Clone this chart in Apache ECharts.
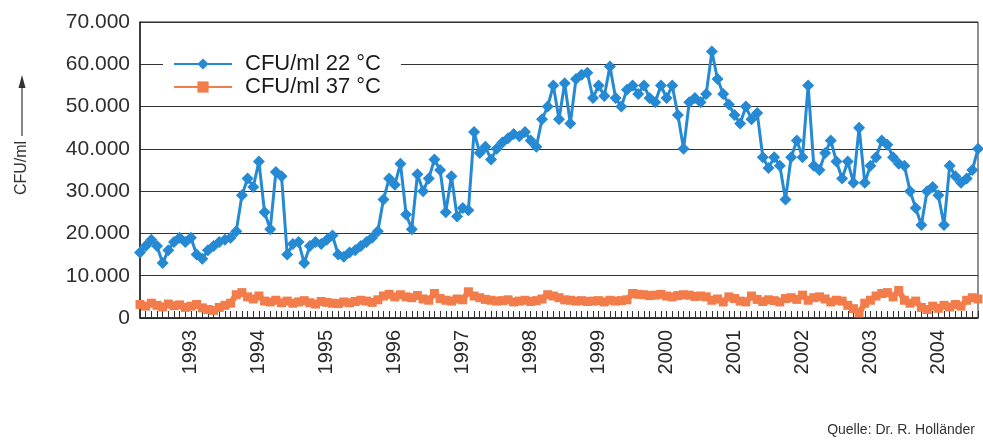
<!DOCTYPE html>
<html>
<head>
<meta charset="utf-8">
<script src="https://cdn.jsdelivr.net/npm/echarts@6/dist/echarts.min.js"></script>
<style>
  html, body { margin: 0; padding: 0; background: #fff; }
  #chart { width: 983px; height: 442px; }
</style>
</head>
<body>
<div id="chart"></div>
<script>
// Monatswerte April 1992 bis August 2004
const startYear = 1992;
const startMonth = 4;
const yearLabels = ["1993", "1994", "1995", "1996", "1997", "1998", "1999", "2000", "2001", "2002", "2003", "2004"];

// CFU/ml 22 °C
const cfu22 = [
  15500, 17000, 18500, 17000, 13000, 16000, 18000, 19000, 18000, 19000,
  15000, 14000, 16000, 17000, 18000, 18500, 19000, 20500, 29000, 33000,
  31000, 37000, 25000, 21000, 34500, 33500, 15000, 17500, 18000, 13000,
  17000, 18000, 17500, 18500, 19500, 15000, 14500, 15500, 16000, 17000,
  18000, 19000, 20500, 28000, 33000, 31500, 36500, 24500, 21000, 34000,
  30000, 33000, 37500, 35000, 25000, 33500, 24000, 26000, 25500, 44000,
  39000, 40500, 37500, 40000, 41500, 42500, 43500, 43000, 44000, 42000,
  40500, 47000, 50000, 55000, 47000, 55500, 46000, 56500, 57500, 58000,
  52000, 55000, 52500, 59500, 52000, 50000, 54000, 55000, 53000, 55000,
  52000, 51000, 55000, 52000, 55000, 48000, 40000, 51000, 52000, 51000,
  53000, 63000, 56500, 53000, 50500, 48000, 46000, 50000, 47000, 48500,
  38000, 35500, 38000, 36000, 28000, 38000, 42000, 38000, 55000, 36000,
  35000, 39000, 42000, 37000, 33000, 37000, 32000, 45000, 32000, 36000,
  38000, 42000, 41000, 38000, 36500, 36000, 30000, 26000, 22000, 30000,
  31000, 29000, 22000, 36000, 33500, 32000, 33000, 35000, 40000
];

// CFU/ml 37 °C
const cfu37 = [
  3200, 2800, 3500, 3000, 2600, 3300, 2900, 3100, 2500, 2800,
  3200, 2400, 2000, 1800, 2500, 3000, 3500, 5500, 6000, 5000,
  4500, 5200, 4000, 3800, 4200, 3600, 4000, 3500, 3800, 4100,
  3600, 3300, 3900, 3700, 3500, 3400, 3800, 3600, 3900, 4200,
  4000, 3700, 4300, 5200, 5600, 5000, 5500, 5000, 4800, 5300,
  4500, 4200, 5800, 4600, 4200, 4000, 4500, 4300, 6200, 5200,
  4800, 4400, 4200, 4000, 4100, 4300, 3800, 4000, 4200, 3900,
  4100, 4500, 5500, 5200, 4800, 4300, 4200, 4000, 4100, 3900,
  4000, 4100, 3800, 4200, 4000, 4100, 4300, 5800, 5600, 5500,
  5300, 5400, 5600, 5200, 5000, 5300, 5500, 5400, 5100, 5200,
  5000, 4200, 4500, 3800, 5000, 4600, 4000, 3800, 5200, 4400,
  3900, 4300, 4100, 3800, 4600, 4800, 4400, 5400, 4200, 4800,
  5000, 4500, 3800, 4200, 4000, 3000, 2200, 1200, 3500, 4200,
  5200, 5800, 6000, 5000, 6500, 4200, 3500, 4000, 2500, 2000,
  2800, 2300, 3000, 2600, 3200, 2800, 4200, 4800, 4500
];

// Kategorien: Jahr-Monat
const months = [];
for (let i = 0; i < cfu22.length; i++) {
  const m = startMonth - 1 + i;
  const y = startYear + Math.floor(m / 12);
  const mm = (m % 12) + 1;
  months.push(y + "-" + (mm < 10 ? "0" + mm : mm));
}

const chart = echarts.init(document.getElementById("chart"));

const fmtNum = v => v === 0 ? "0" : String(v).replace(/\B(?=(\d{3})+(?!\d))/g, ".");
const font = "Liberation Sans, Arial, sans-serif";

chart.setOption({
  animation: false,
  textStyle: { fontFamily: font },
  grid: {
    left: 140, right: 5, top: 22, bottom: 124,
    show: true, borderColor: "#222", borderWidth: 1
  },
  legend: {
    orient: "vertical",
    left: 163, top: 50,
    padding: [3, 20, 3, 10],
    itemWidth: 58, itemHeight: 14, itemGap: 1,
    backgroundColor: "#fff",
    textStyle: { fontSize: 22, lineHeight: 22, color: "#1a1a1a", padding: [0, 0, 0, 8] },
    data: ["CFU/ml 22 °C", "CFU/ml 37 °C"]
  },
  xAxis: {
    type: "category",
    data: months,
    boundaryGap: false,
    axisLine: { lineStyle: { color: "#222", width: 1.5 } },
    axisTick: { inside: true, length: 7, interval: 0, lineStyle: { color: "#333" } },
    axisLabel: {
      rotate: 90,
      margin: 12,
      fontSize: 20,
      color: "#2a2a2a",
      interval: (idx, val) => val.endsWith("-01") && yearLabels.includes(val.slice(0, 4)),
      formatter: val => val.slice(0, 4)
    },
    splitLine: { show: false }
  },
  yAxis: {
    type: "value",
    min: 0, max: 70000, interval: 10000,
    axisLine: { show: true, lineStyle: { color: "#222", width: 1.5 } },
    axisTick: { show: false },
    axisLabel: { fontSize: 21, color: "#2e2e2e", margin: 10, formatter: fmtNum },
    splitLine: { lineStyle: { color: "#333", width: 1 } }
  },
  series: [
    {
      name: "CFU/ml 22 °C",
      type: "line",
      data: cfu22,
      showSymbol: true,
      showAllSymbol: true,
      symbol: "diamond",
      symbolSize: 12,
      z: 3,
      itemStyle: { color: "#2589d3" },
      lineStyle: { color: "#2589d3", width: 3 }
    },
    {
      name: "CFU/ml 37 °C",
      type: "line",
      data: cfu37,
      showSymbol: true,
      showAllSymbol: true,
      symbol: "rect",
      symbolSize: 9,
      z: 2,
      itemStyle: { color: "#f27c4a" },
      lineStyle: { color: "#f27c4a", width: 6 }
    }
  ],
  graphic: [
    {
      type: "text",
      x: 22, y: 168, rotation: Math.PI / 2,
      style: {
        text: "CFU/ml", fontSize: 16, fill: "#333", fontFamily: font,
        align: "center", verticalAlign: "middle"
      }
    },
    {
      type: "line",
      shape: { x1: 22, y1: 136, x2: 22, y2: 86 },
      style: { stroke: "#333", lineWidth: 1.2 }
    },
    {
      type: "polygon",
      shape: { points: [[22, 75], [18.5, 88], [25.5, 88]] },
      style: { fill: "#333" }
    },
    {
      type: "text",
      right: 8, top: 423,
      style: { text: "Quelle: Dr. R. Holländer", fontSize: 14, fill: "#333", fontFamily: font }
    }
  ]
});
</script>
</body>
</html>
